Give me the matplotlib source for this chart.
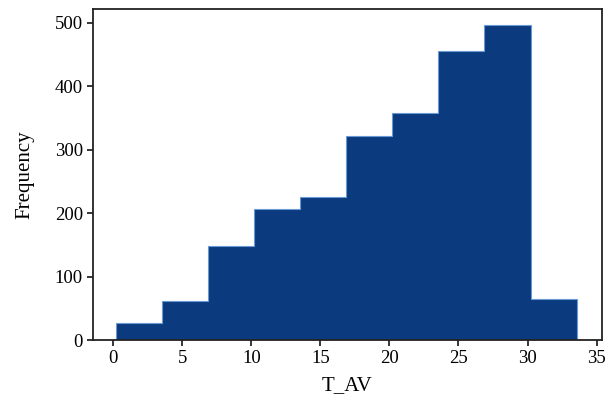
import numpy as np
import matplotlib.pyplot as plt

plt.rcParams['font.family'] = ['Liberation Serif', 'DejaVu Serif']

# histogram of T_AV: bin edges and counts per bin
bin_edges = [0.17, 3.509, 6.848, 10.187, 13.526, 16.865, 20.204, 23.543, 26.882, 30.221, 33.56]
counts = [27, 62, 148, 206, 225, 321, 357, 455, 496, 65]
x_ticks = [0, 5, 10, 15, 20, 25, 30, 35]
y_ticks = [0, 100, 200, 300, 400, 500]

fig = plt.figure(figsize=(6.09, 3.98), dpi=100)
ax = fig.add_axes([0.152, 0.1457, 0.836, 0.831])

edges = np.array(bin_edges)
ax.stairs(counts, edges, fill=True, facecolor='#0b3b7e',
          edgecolor='#6a9ad6', linewidth=0.8)

ax.set_ylim(0, 521)
ax.set_xlim(-1.5, 35.37)
ax.set_xticks(x_ticks)
ax.set_yticks(y_ticks)
ax.tick_params(labelsize=13.5, length=4, width=1.1, pad=3)
for s in ax.spines.values():
    s.set_linewidth(1.3)
    s.set_color('#222222')

ax.set_xlabel('T_AV', fontsize=15, labelpad=7)
ax.set_ylabel('Frequency', fontsize=15, labelpad=15)

fig.savefig('out.png', dpi=100)
